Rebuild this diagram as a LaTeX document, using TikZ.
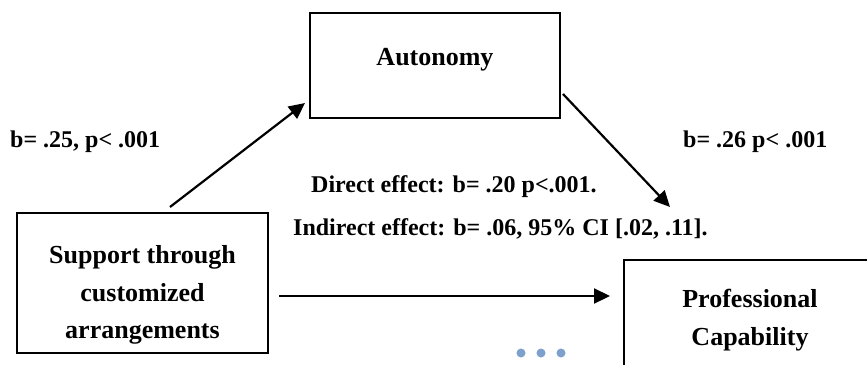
\documentclass[tikz,border=0pt]{standalone}
\usepackage{fontspec}
\setmainfont{Liberation Serif}
\usetikzlibrary{arrows.meta}
\definecolor{dotblue}{RGB}{125,160,204}
\tikzset{
  box/.style={draw=black, line width=2.3pt, inner sep=0pt},
  boxtext/.style={font=\fontsize{26}{38}\selectfont\bfseries, anchor=base, inner sep=0pt},
  lbl/.style={font=\fontsize{24}{30}\selectfont\bfseries, anchor=base west, inner sep=0pt},
  conn/.style={line width=2.2pt, -{Triangle[length=16pt,width=15pt]}},
  dot/.style={circle, fill=dotblue, minimum size=9pt, inner sep=0pt}
}
\begin{document}
\begin{tikzpicture}[x=1pt,y=-1pt]
\clip (0,0) rectangle (867,364);
\fill[white] (0,0) rectangle (867,364);
% boxes
\node[box, minimum width=250pt, minimum height=105pt] (aut) at (435,65.5) {};
\node[box, minimum width=251pt, minimum height=140pt] (sup) at (142.5,283) {};
\node[box, minimum width=300pt, minimum height=200pt] (pro) at (774,360) {};
% box texts
\node[boxtext] (autt) at (435,65) {Autonomy};
\node[boxtext] (sup1) at (142.5,263) {Support through};
\node[boxtext] (sup2) at (142.5,301) {customized};
\node[boxtext] (sup3) at (142.5,338) {arrangements};
\node[boxtext] (pro1) at (750,307) {Professional};
\node[boxtext] (pro2) at (750,345) {Capability};
% labels
\node[lbl] (l1) at (10,147) {b= .25, p< .001};
\node[lbl] (l2) at (683,147) {b= .26 p< .001};
\node[lbl] (l3) at (311,192) {Direct effect: b= .20 p<.001.};
\node[lbl] (l4) at (293,235) {Indirect effect: b= .06, 95\% CI [.02, .11].};
% connector endpoints
\coordinate (a1s) at (170,207);
\coordinate (a1e) at (305,103);
\coordinate (a2s) at (563,94);
\coordinate (a2e) at (670,207);
\coordinate (a3s) at (279,296);
\coordinate (a3e) at (610,296);
\draw[conn] (a1s) -- (a1e);
\draw[conn] (a2s) -- (a2e);
\draw[conn] (a3s) -- (a3e);
% dots
\node[dot] (d1) at (521,353) {};
\node[dot] (d2) at (541,353) {};
\node[dot] (d3) at (561,353) {};
\end{tikzpicture}
\end{document}
